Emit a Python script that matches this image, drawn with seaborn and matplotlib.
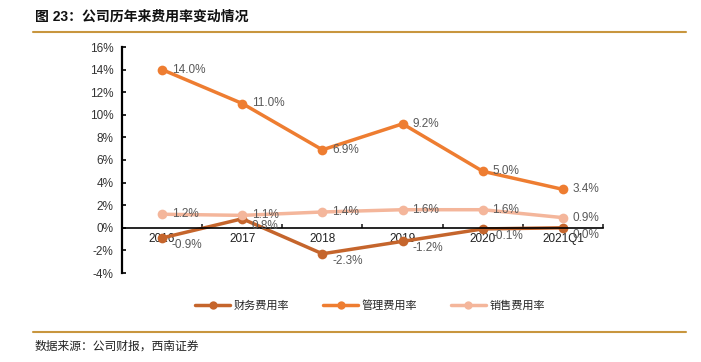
import matplotlib
matplotlib.use("Agg")
import matplotlib.pyplot as plt
import seaborn as sns
import pandas as pd
from matplotlib.ticker import FixedLocator, NullFormatter, FuncFormatter, MultipleLocator
from matplotlib.lines import Line2D

categories = ["2016", "2017", "2018", "2019", "2020", "2021Q1"]
finance_rate = [-0.9, 0.8, -2.3, -1.2, -0.1, 0.0]
admin_rate = [14.0, 11.0, 6.9, 9.2, 5.0, 3.4]
sales_rate = [1.2, 1.1, 1.4, 1.6, 1.6, 0.9]
series_names = ["财务费用率", "管理费用率", "销售费用率"]
finance_labels = ["-0.9%", "0.8%", "-2.3%", "-1.2%", "-0.1%", "0.0%"]
admin_labels = ["14.0%", "11.0%", "6.9%", "9.2%", "5.0%", "3.4%"]
sales_labels = ["1.2%", "1.1%", "1.4%", "1.6%", "1.6%", "0.9%"]

sns.set_theme(style="white")
plt.rcParams["font.family"] = ["Liberation Sans", "Noto Sans CJK SC", "DejaVu Sans"]

colors = {"财务费用率": "#C5652C", "管理费用率": "#EE7D31", "销售费用率": "#F4B69B"}

rows = []
for name, vals in zip(series_names, [finance_rate, admin_rate, sales_rate]):
    for i, (c, v) in enumerate(zip(categories, vals)):
        rows.append({"cat": c, "pos": i, "value": v, "series": name})
df = pd.DataFrame(rows)

W, H = 701, 362
fig = plt.figure(figsize=(W / 100, H / 100), dpi=100)
left, right, top, bottom = 122, 603, 47, 273
ax = fig.add_axes([left / W, 1 - bottom / H, (right - left) / W, (bottom - top) / H])

sns.lineplot(data=df, x="pos", y="value", hue="series", palette=colors,
             hue_order=series_names, marker="o", markersize=7, markeredgewidth=0,
             linewidth=2.5, ax=ax, legend=False)

ax.set_xlim(-0.5, len(categories) - 0.5)
ax.set_ylim(-4, 16)
ax.set_xlabel("")
ax.set_ylabel("")

# y axis
ax.yaxis.set_major_locator(MultipleLocator(2))
ax.yaxis.set_major_formatter(FuncFormatter(lambda v, p: f"{v:.0f}%"))
ax.tick_params(axis="y", direction="in", length=3, width=1.2, colors="black",
               labelsize=8.5, labelcolor="#333333", pad=6, left=True)

# x axis at zero
ax.spines["bottom"].set_position(("data", 0))
ax.spines["bottom"].set_linewidth(1.2)
ax.spines["bottom"].set_color("black")
ax.spines["left"].set_linewidth(1.6)
ax.spines["left"].set_color("black")
ax.spines["top"].set_visible(False)
ax.spines["right"].set_visible(False)
bounds = [i - 0.5 for i in range(len(categories) + 1)]
ax.xaxis.set_major_locator(FixedLocator(bounds))
ax.xaxis.set_major_formatter(NullFormatter())
ax.xaxis.set_minor_locator(FixedLocator(list(range(len(categories)))))
ax.set_xticks(list(range(len(categories))), minor=True)
ax.set_xticklabels(categories, minor=True)
ax.tick_params(axis="x", which="major", direction="in", length=3, width=1.2, bottom=True)
ax.tick_params(axis="x", which="minor", length=0, labelsize=8.5, labelcolor="#222222", pad=4, bottom=True)
ax.grid(False)

label_color = "#595959"
for vals, labs, dy in [(admin_rate, admin_labels, 0), (finance_rate, finance_labels, -5), (sales_rate, sales_labels, 0)]:
    for i, (v, t) in enumerate(zip(vals, labs)):
        ax.annotate(t, (i, v), xytext=(7, dy), textcoords="offset points",
                    ha="left", va="center", fontsize=8.5, color=label_color)

# legend
handles = [Line2D([0], [0], color=colors[n], marker="o", markersize=6, markeredgewidth=0, linewidth=2.5)
           for n in series_names]
fig.legend(handles, series_names, loc="center", bbox_to_anchor=(370 / W, 1 - 305 / H), ncol=3,
           frameon=False, fontsize=8, handlelength=3.2, columnspacing=3, handletextpad=0.3)

# title and rules
fig.text(35 / W, 1 - 17 / H, "图 23：公司历年来费用率变动情况", fontsize=10, fontweight="bold",
         ha="left", va="center", color="#111111")
fig.add_artist(Line2D([33 / W, 686 / W], [1 - 32 / H, 1 - 32 / H], color="#C8963E", linewidth=1.5))
fig.add_artist(Line2D([33 / W, 686 / W], [1 - 332 / H, 1 - 332 / H], color="#C8963E", linewidth=1.5))
fig.text(35 / W, 1 - 347 / H, "数据来源：公司财报，西南证券", fontsize=8.5, style="italic",
         ha="left", va="center", color="#222222")

fig.savefig("out.png", dpi=100)
